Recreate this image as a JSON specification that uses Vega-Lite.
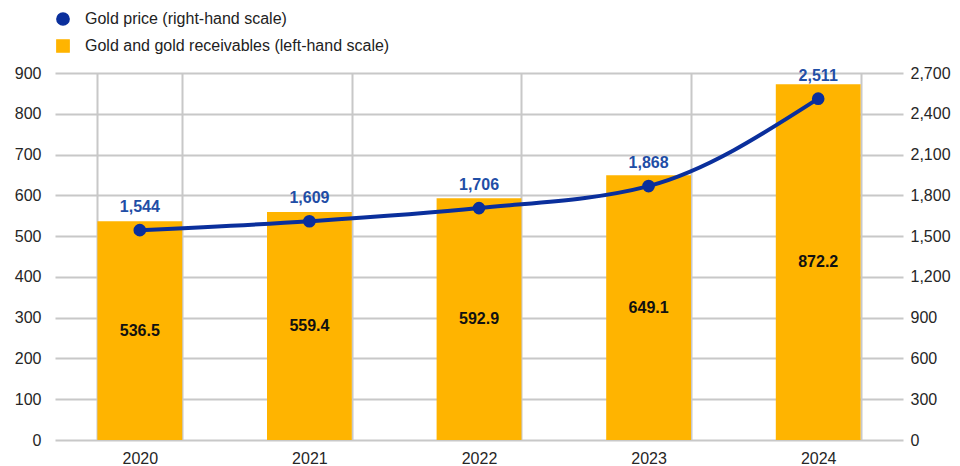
{
  "$schema": "https://vega.github.io/schema/vega-lite/v6.json",
  "width": 848,
  "height": 367,
  "autosize": {"type": "none"},
  "padding": {"left": 55, "top": 73, "right": 57, "bottom": 26},
  "background": "white",
  "config": {
    "font": "Liberation Sans",
    "view": {"stroke": null},
    "axis": {"labelFont": "Liberation Sans", "labelFontSize": 16, "labelColor": "#262626", "gridColor": "#c8c8c8", "gridWidth": 2, "ticks": false, "domain": false, "title": null}
  },
  "data": {
    "values": [
      {"year": "2020", "gold": 536.5, "price": 1544},
      {"year": "2021", "gold": 559.4, "price": 1609},
      {"year": "2022", "gold": 592.9, "price": 1706},
      {"year": "2023", "gold": 649.1, "price": 1868},
      {"year": "2024", "gold": 872.2, "price": 2511}
    ]
  },
  "encoding": {
    "x": {
      "field": "year", "type": "ordinal",
      "scale": {"paddingInner": 0.5, "paddingOuter": 0.25},
      "axis": {"labelAngle": 0, "tickBand": "extent", "grid": true, "labelPadding": 10}
    }
  },
  "layer": [
    {
      "mark": {"type": "bar"},
      "encoding": {
        "y": {"field": "gold", "type": "quantitative", "scale": {"domain": [0, 900]},
          "axis": {"orient": "left", "values": [0,100,200,300,400,500,600,700,800,900], "labelPadding": 14, "grid": true}},
        "color": {"datum": "Gold and gold receivables (left-hand scale)", "type": "nominal",
          "scale": {"domain": ["Gold price (right-hand scale)", "Gold and gold receivables (left-hand scale)"], "range": ["#0a2f9c", "#ffb400"]},
          "legend": {
            "orient": "none", "legendX": 0, "legendY": -62, "title": null, "labelLimit": 0,
            "labelFontSize": 16, "labelColor": "#222222", "symbolSize": 150, "labelOffset": 14, "rowPadding": 7,
            "encode": {"symbols": {"update": {
              "shape": [{"test": "datum.index === 0", "value": "circle"}, {"value": "square"}],
              "fill": {"scale": "color", "field": "value"},
              "stroke": {"value": "transparent"},
              "opacity": {"value": 1}
            }}}
          }
        }
      }
    },
    {
      "mark": {"type": "text", "fontWeight": "bold", "fontSize": 16, "color": "#111111", "baseline": "middle"},
      "encoding": {
        "y": {"field": "gold", "type": "quantitative", "scale": {"domain": [0, 1800]}, "axis": null},
        "text": {"field": "gold", "type": "quantitative", "format": ".1f"}
      }
    },
    {
      "mark": {"type": "line", "interpolate": "monotone", "strokeWidth": 4, "point": {"size": 160, "filled": true}},
      "encoding": {
        "y": {"field": "price", "type": "quantitative", "scale": {"domain": [0, 2700]},
          "axis": {"orient": "right", "values": [0,300,600,900,1200,1500,1800,2100,2400,2700], "format": ",.0f", "labelPadding": 7, "grid": false}},
        "color": {"datum": "Gold price (right-hand scale)", "type": "nominal"}
      }
    },
    {
      "mark": {"type": "text", "fontWeight": "bold", "fontSize": 16, "color": "#1f4ea6", "dy": -23, "baseline": "middle"},
      "encoding": {
        "y": {"field": "price", "type": "quantitative", "scale": {"domain": [0, 2700]}, "axis": null},
        "text": {"field": "price", "type": "quantitative", "format": ",.0f"}
      }
    }
  ],
  "resolve": {"scale": {"y": "independent"}}
}
